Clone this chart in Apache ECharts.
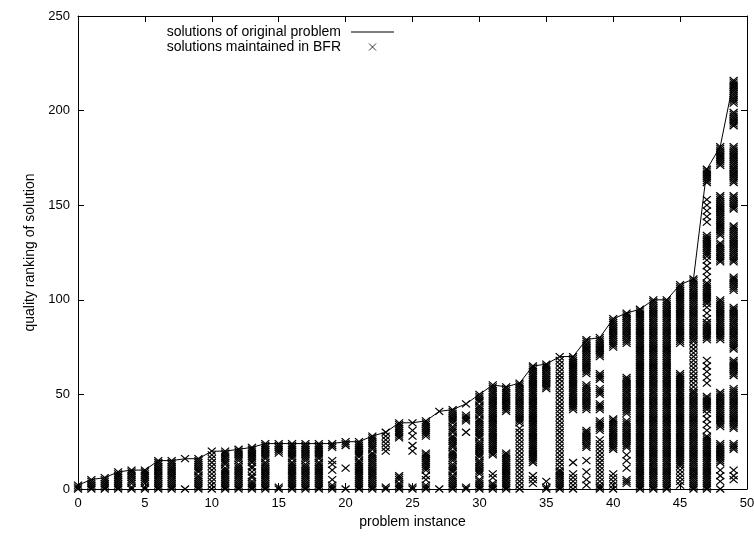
<!DOCTYPE html>
<html>
<head>
<meta charset="utf-8">
<script src="https://cdn.jsdelivr.net/npm/echarts/dist/echarts.min.js"></script>
<style>
  html, body { margin: 0; padding: 0; background: #fff; }
  #chart { width: 754px; height: 536px; }
</style>
</head>
<body>
<div id="chart"></div>
<script>
// problem instances on the x axis
const instances = [0, 1, 2, 3, 4, 5, 6, 7, 8, 9, 10, 11, 12, 13, 14, 15, 16, 17, 18, 19,
  20, 21, 22, 23, 24, 25, 26, 27, 28, 29, 30, 31, 32, 33, 34, 35, 36, 37, 38, 39,
  40, 41, 42, 43, 44, 45, 46, 47, 48, 49]

// quality ranking of the solution of the original problem
const originalRanking = [2, 5, 6, 9, 10, 10, 15, 15, 16, 16, 20, 20, 21, 22, 24, 24, 24, 24, 24, 24,
  25, 25, 28, 30, 35, 35, 36, 41, 42, 45, 50, 55, 54, 56, 65, 66, 70, 70, 79, 80,
  90, 93, 95, 100, 100, 108, 111, 169, 181, 216]

// rankings of the solutions kept in BFR, one list per instance
// a number is one ranking, [a, b] is every ranking from a to b
const bfrRanks = [
  [[0, 2]],
  [[0, 5]],
  [[0, 6]],
  [[0, 9]],
  [[0, 1], [3, 10]],
  [[0, 1], [3, 10]],
  [[0, 15]],
  [[0, 15]],
  [0, 16],
  [[0, 7], [9, 16]],
  [0, 2, 4, 6, 8, 10, 12, 14, 16, 18, 20],
  [[0, 11], [13, 20]],
  [[0, 13], [15, 21]],
  [[0, 4], [6, 7], 9, [11, 12], [14, 22]],
  [[0, 14], [16, 24]],
  [[0, 1], [19, 24]],
  [[0, 14], [16, 24]],
  [[0, 13], [15, 24]],
  [[0, 14], [16, 24]],
  [[0, 2], 5, 10, 13, 15, [22, 24]],
  [0, 11, [23, 25]],
  [[0, 15], [17, 25]],
  [[0, 19], [21, 28]],
  [[0, 1], 20, 22, 24, 26, 28, 30],
  [[0, 3], [5, 7], [27, 35]],
  [[0, 1], 20, 23, 28, 31, 35],
  [[0, 2], 5, 7, [10, 19], [28, 36]],
  [0, 41],
  [[0, 7], [9, 13], [15, 20], [22, 28], [30, 33], [35, 42]],
  [[0, 1], 30, [36, 39], 45],
  [[0, 5], [8, 15], [17, 25], [27, 37], [39, 44], [46, 50]],
  [[0, 3], 6, 8, [18, 55]],
  [[0, 19], [41, 54]],
  [0, 2, 4, 6, 8, 10, 12, 14, 16, 18, 20, 22, 24, 26, 28, 30, 32, [35, 56]],
  [3, 5, 7, [14, 65]],
  [0, 1, 4, [53, 66]],
  [[0, 10], 12, 14, 16, 18, 20, 22, 24, 26, 28, 30, 32, 34, 36, 38, 40, 42, 44, 46, 48, 50,
    52, 54, 56, 58, 60, 62, 64, 66, 68, 70],
  [0, 2, 4, 6, 8, 14, [42, 70]],
  [2, 5, 9, 15, [22, 31], [42, 55], [61, 79]],
  [[0, 2], 4, 6, 8, 10, 12, 14, 16, 18, 20, 22, 24, 26, [31, 36], [42, 45], [50, 53], [58, 61], [70, 80]],
  [0, 2, 4, 6, 8, [21, 37], [75, 90]],
  [[3, 5], 11, 15, 18, [22, 36], [40, 59], [77, 93]],
  [[0, 95]],
  [[0, 100]],
  [[0, 100]],
  [2, 4, 6, 8, 10, [12, 61], [77, 108]],
  [[0, 52], 54, 56, 58, 60, 62, 64, 66, 68, 70, 72, 74, 76, [78, 111]],
  [[0, 28], 31, 34, 37, 40, [42, 49], 56, 59, 62, 65, 68, [79, 88], 90, 93, 96, [98, 109],
    112, 115, 118, 121, [123, 134], 141, 144, 147, 150, 153, [162, 169]],
  [0, 4, 7, 10, [14, 24], [33, 51], [79, 100], [120, 130], [134, 155], [171, 181]],
  [5, 7, 10, [21, 24], [32, 53], [60, 68], [74, 96], [105, 112], [120, 139], [148, 155],
    [162, 181], [192, 199], [204, 216]]
]

const xTicks = { min: 0, max: 50, interval: 5 }
const yTicks = { min: 0, max: 250, interval: 50 }

const lineName = 'solutions of original problem'
const pointName = 'solutions maintained in BFR'

const FONT = 'Liberation Sans'
const crossPath = 'path://M0,0L10,10M10,0L0,10'
const dashPath = 'path://M0,0L40,0L40,1L0,1Z'

// spread the runs into single points
const bfrPoints = []
bfrRanks.forEach((col, i) => {
  col.forEach(r => {
    if (Array.isArray(r)) {
      for (let k = r[0]; k <= r[1]; k++) bfrPoints.push([instances[i], k])
    } else {
      bfrPoints.push([instances[i], r])
    }
  })
})
const linePoints = instances.map((x, i) => [x, originalRanking[i]])

const chart = echarts.init(document.getElementById('chart'), null, { renderer: 'canvas' })

const black = '#000'
const labelStyle = { color: black, fontSize: 14, fontFamily: FONT }
const tickStyle = { color: black, fontSize: 13, fontFamily: FONT }

function mainAxis(ticks, name, nameGap, pos) {
  return {
    type: 'value',
    position: pos,
    min: ticks.min,
    max: ticks.max,
    interval: ticks.interval,
    name: name,
    nameLocation: 'middle',
    nameGap: nameGap,
    nameTextStyle: labelStyle,
    axisLine: { show: true, onZero: false, lineStyle: { color: black, width: 1 } },
    axisTick: { show: true, inside: true, length: 6, lineStyle: { color: black } },
    axisLabel: { ...tickStyle, margin: 8, showMinLabel: true, showMaxLabel: true, hideOverlap: false },
    splitLine: { show: false }
  }
}
function mirrorAxis(ticks, pos) {
  return {
    type: 'value',
    position: pos,
    min: ticks.min,
    max: ticks.max,
    interval: ticks.interval,
    axisLine: { show: true, onZero: false, lineStyle: { color: black, width: 1 } },
    axisTick: { show: true, inside: true, length: 6, lineStyle: { color: black } },
    axisLabel: { show: false },
    splitLine: { show: false }
  }
}

const option = {
  animation: false,
  backgroundColor: '#fff',
  grid: { left: 78, right: 7, top: 16, bottom: 47, containLabel: false, outerBoundsMode: 'none' },
  xAxis: [
    mainAxis(xTicks, 'problem instance', 26, 'bottom'),
    mirrorAxis(xTicks, 'top')
  ],
  yAxis: [
    mainAxis(yTicks, 'quality ranking of solution', 35, 'left'),
    mirrorAxis(yTicks, 'right')
  ],
  legend: {
    data: [{ name: lineName, icon: dashPath }, { name: pointName }],
    left: 151, top: 25, padding: 0, align: 'right', orient: 'vertical',
    itemWidth: 43, itemHeight: 7, itemGap: 1, selectedMode: false,
    itemStyle: { borderWidth: 0.8 },
    textStyle: { ...labelStyle, width: 190, align: 'right', padding: [0, 5, 0, 0], lineHeight: 13 }
  },
  series: [
    {
      name: pointName,
      type: 'scatter',
      data: bfrPoints,
      symbol: crossPath,
      symbolSize: [8, 7],
      itemStyle: { color: 'transparent', borderColor: black, borderWidth: 1.2, opacity: 1 },
      emphasis: { disabled: true }
    },
    {
      name: lineName,
      type: 'line',
      data: linePoints,
      symbol: 'none',
      lineStyle: { color: black, width: 1 },
      itemStyle: { color: black },
      emphasis: { disabled: true }
    }
  ]
}

chart.setOption(option)
</script>
</body>
</html>
